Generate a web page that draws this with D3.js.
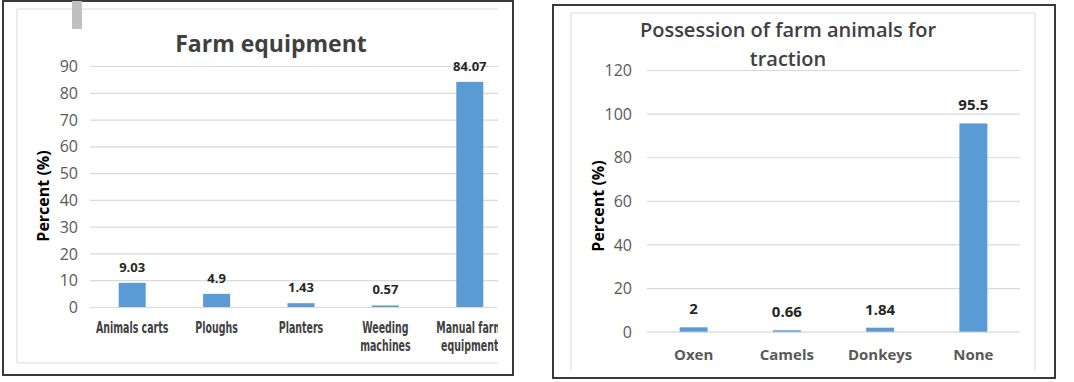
<!DOCTYPE html>
<html>
<head>
<meta charset="utf-8">
<script src="https://cdn.jsdelivr.net/npm/d3@7"></script>
<style>
  body { margin: 0; background: #fff; }
  svg { display: block; }
</style>
</head>
<body>
<div id="chart"></div>
<script>
// left chart: farm equipment
const equipCategories = [["Animals carts"], ["Ploughs"], ["Planters"], ["Weeding", "machines"], ["Manual farm", "equipment"]];
const equipValues = [9.03, 4.9, 1.43, 0.57, 84.07];
const equipTicks = [0, 10, 20, 30, 40, 50, 60, 70, 80, 90];

// right chart: animals for traction
const animalCategories = [["Oxen"], ["Camels"], ["Donkeys"], ["None"]];
const animalValues = [2, 0.66, 1.84, 95.5];
const animalTicks = [0, 20, 40, 60, 80, 100, 120];

const W = 1074, H = 382;
const barColor = "#5b9bd5";
const gridColor = "#d9d9d9";

const svg = d3.select("#chart").append("svg")
    .attr("width", W)
    .attr("height", H);

svg.append("rect").attr("width", W).attr("height", H).attr("fill", "#fff");

const defs = svg.append("defs");

function drawChart(cfg) {
    const g = svg.append("g");

    // outer dark frame
    g.append("rect")
        .attr("x", cfg.outer[0]).attr("y", cfg.outer[1])
        .attr("width", cfg.outer[2] - cfg.outer[0])
        .attr("height", cfg.outer[3] - cfg.outer[1])
        .attr("fill", "none")
        .attr("stroke", "#3a3a3a")
        .attr("stroke-width", 2);

    // inner light frame (only some sides are visible)
    const [ix0, iy0, ix1, iy1] = cfg.inner;
    cfg.innerSides.forEach(side => {
        const pts = {
            top: [ix0, iy0, ix1, iy0],
            bottom: [ix0, iy1, ix1, iy1],
            left: [ix0, iy0, ix0, iy1],
            right: [ix1, iy0, ix1, iy1]
        }[side];
        g.append("line")
            .attr("x1", pts[0]).attr("y1", pts[1])
            .attr("x2", pts[2]).attr("y2", pts[3])
            .attr("stroke", gridColor)
            .attr("stroke-width", 1);
    });

    const names = cfg.categories.map(d => d.join(" "));

    const x = d3.scaleBand()
        .domain(names)
        .range(cfg.xRange)
        .paddingInner(cfg.padding)
        .paddingOuter(cfg.padding / 2);

    const y = d3.scaleLinear()
        .domain([0, d3.max(cfg.ticks)])
        .range(cfg.yRange);

    // clip to the inner frame, the source image is cropped on the right
    const clipId = "clip-" + cfg.id;
    defs.append("clipPath").attr("id", clipId)
        .append("rect")
        .attr("x", ix0).attr("y", iy0)
        .attr("width", cfg.clipRight - ix0)
        .attr("height", iy1 - iy0);

    const plot = g.append("g").attr("clip-path", `url(#${clipId})`);

    // gridlines + tick labels
    const yAxis = d3.axisLeft(y)
        .tickValues(cfg.ticks)
        .tickSize(-(cfg.gridRight - cfg.xRange[0]))
        .tickPadding(cfg.tickPad);

    const ax = plot.append("g")
        .attr("transform", `translate(${cfg.xRange[0]},0)`)
        .call(yAxis);
    ax.select(".domain").remove();
    ax.attr("font-size", null).attr("font-family", null);
    ax.selectAll(".tick line").attr("stroke", gridColor).attr("stroke-width", 1.2);
    ax.selectAll(".tick text")
        .attr("fill", null)
        .style("font-family", "'Open Sans', sans-serif")
        .style("font-size", cfg.tickSize + "px")
        .style("fill", "#595959")
        .attr("dy", "0.35em");

    // bars
    plot.selectAll(".bar")
        .data(cfg.values)
        .enter().append("rect")
        .attr("class", "bar")
        .attr("x", (d, i) => x(names[i]))
        .attr("width", x.bandwidth())
        .attr("y", d => y(d))
        .attr("height", d => y(0) - y(d))
        .attr("fill", barColor);

    // value labels
    plot.selectAll(".value-label")
        .data(cfg.values)
        .enter().append("text")
        .attr("class", "value-label")
        .attr("x", (d, i) => x(names[i]) + x.bandwidth() / 2)
        .attr("y", d => y(d) - cfg.labelGap)
        .attr("text-anchor", "middle")
        .style("font-family", "'Open Sans', sans-serif")
        .style("font-weight", "bold")
        .style("fill", "#262626")
        .style("font-size", cfg.labelSize + "px")
        .text(d => d);

    // category labels (left chart uses a narrow font, squeezed horizontally)
    const cats = plot.selectAll(".cat")
        .data(cfg.categories)
        .enter().append("text")
        .attr("class", "cat")
        .attr("transform", (d, i) => `translate(${x(names[i]) + x.bandwidth() / 2},${cfg.catY}) scale(${cfg.catSqueeze},1)`)
        .attr("text-anchor", "middle")
        .style("font-family", cfg.catFont)
        .style("font-size", cfg.catSize + "px")
        .style("font-weight", "bold")
        .style("fill", cfg.catColor);
    cats.each(function(d) {
        const t = d3.select(this);
        d.forEach((line, k) => {
            t.append("tspan")
                .attr("x", 0)
                .attr("dy", k === 0 ? 0 : cfg.catLine)
                .text(line);
        });
    });

    // chart title
    const title = g.append("text")
        .attr("x", cfg.titleX)
        .attr("y", cfg.titleY)
        .attr("text-anchor", "middle")
        .style("font-family", "'Open Sans', sans-serif")
        .style("font-size", cfg.titleSize + "px")
        .style("font-weight", cfg.titleWeight)
        .style("fill", "#404040");
    cfg.title.forEach((line, k) => {
        title.append("tspan")
            .attr("x", cfg.titleX)
            .attr("dy", k === 0 ? 0 : cfg.titleLine)
            .text(line);
    });

    // y axis title
    g.append("text")
        .attr("transform", `translate(${cfg.yTitle[0]},${cfg.yTitle[1]}) rotate(-90)`)
        .attr("text-anchor", "middle")
        .attr("dy", "0.35em")
        .style("font-family", "'Open Sans', sans-serif")
        .style("font-weight", "bold")
        .style("font-size", "16px")
        .style("fill", "#000")
        .text("Percent (%)");
}

drawChart({
    id: "equip",
    outer: [3, 1, 513, 375],
    inner: [17, 9, 498, 363],
    innerSides: ["top", "left", "bottom"],
    clipRight: 498,
    xRange: [90, 512],
    gridRight: 498,
    yRange: [307, 66],
    padding: 0.68,
    ticks: equipTicks,
    categories: equipCategories,
    values: equipValues,
    tickPad: 12,
    tickSize: 16,
    labelGap: 11,
    labelSize: 13,
    catY: 333,
    catLine: 18,
    catSize: 15,
    catSqueeze: 0.7,
    catFont: "'DejaVu Sans Condensed', sans-serif",
    catColor: "#404040",
    title: ["Farm equipment"],
    titleX: 271,
    titleY: 52,
    titleSize: 23,
    titleWeight: "bold",
    titleLine: 0,
    yTitle: [43, 196]
});

drawChart({
    id: "animal",
    outer: [553, 5, 1055, 378],
    inner: [571, 13, 1035, 370],
    innerSides: ["top", "left", "right"],
    clipRight: 1035,
    xRange: [647, 1020],
    gridRight: 1020,
    yRange: [331.7, 70],
    padding: 0.7,
    ticks: animalTicks,
    categories: animalCategories,
    values: animalValues,
    tickPad: 15,
    tickSize: 16,
    labelGap: 13,
    labelSize: 15,
    catY: 360,
    catLine: 18,
    catSize: 15,
    catSqueeze: 1,
    catFont: "'Open Sans', sans-serif",
    catColor: "#595959",
    title: ["Possession of farm animals for", "traction"],
    titleX: 788,
    titleY: 37,
    titleSize: 20,
    titleWeight: "600",
    titleLine: 29,
    yTitle: [598, 206]
});

// small grey marker at top of left panel
svg.append("rect")
    .attr("x", 72).attr("y", 1)
    .attr("width", 10).attr("height", 28)
    .attr("fill", "#c0c0c0");
</script>
</body>
</html>
